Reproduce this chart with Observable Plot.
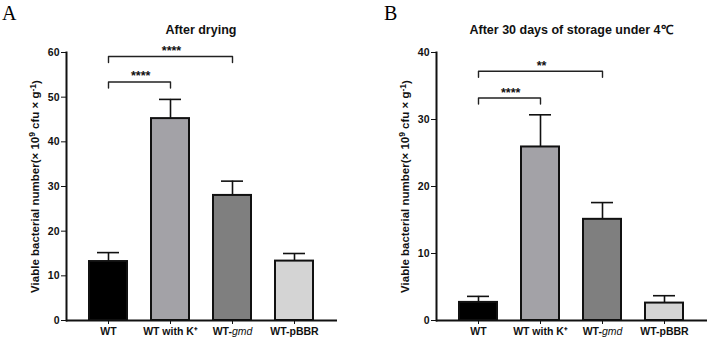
<!DOCTYPE html>
<html>
<head>
<meta charset="utf-8">
<script src="https://cdn.jsdelivr.net/npm/d3@7"></script>
<script src="https://cdn.jsdelivr.net/npm/@observablehq/plot@0.6"></script>
<style>
  html, body { margin: 0; padding: 0; background: #fff; }
  #wrap { position: relative; width: 708px; height: 341px; overflow: hidden; font-family: Arial, "Liberation Sans", sans-serif; }
  .panel { position: absolute; top: 0; width: 354px; height: 341px; }
  .letter { position: absolute; font-family: "Times New Roman", "Liberation Serif", serif; font-size: 20px; line-height: 1; }
  .title { position: absolute; font-weight: bold; font-size: 12.5px; line-height: 1; white-space: nowrap; transform: translateX(-50%); color: #111; }
</style>
</head>
<body>
<div id="wrap"></div>
<script>
// ---- data ----
const categories = ["WT", "WT with K⁺", "WT-gmd", "WT-pBBR"];
const barColors = ["#000000", "#a3a2a7", "#7f7f7f", "#d4d4d4"];

const meanA = [13.2, 45.2, 28.0, 13.3];
const sdA   = [2.0, 4.3, 3.2, 1.7];
const meanB = [2.7, 25.9, 15.1, 2.6];
const sdB   = [0.9, 4.8, 2.5, 1.1];

const ticksA = [0, 10, 20, 30, 40, 50, 60];
const ticksB = [0, 10, 20, 30, 40];

const bracketsA = [
  {from: "WT", to: "WT with K⁺", y: 53.4, label: "****"},
  {from: "WT", to: "WT-gmd", y: 59.1, label: "****"}
];
const bracketsB = [
  {from: "WT", to: "WT with K⁺", y: 33.2, label: "****"},
  {from: "WT", to: "WT-gmd", y: 37.2, label: "**"}
];

const titleA = "After drying";
const titleB = "After 30 days of storage under 4℃";
const yLabel = "Viable bacterial number(× 10⁹ cfu × g⁻¹)";

const SVGNS = "http://www.w3.org/2000/svg";

// ---- chart ----
function panel({means, sds, ticks, yMax, brackets, marginLeft, marginRight}) {
  const width = 354, height = 341, marginTop = 52, marginBottom = 21;
  const pad = 0.35;
  const rows = categories.map((c, i) => ({cat: c, v: means[i], sd: sds[i], top: means[i] + sds[i], fill: barColors[i]}));
  const step = (width - marginLeft - marginRight) / (categories.length - pad + 2 * pad);
  const pxPerUnit = (height - marginTop - marginBottom) / yMax;
  const drop = 6 / pxPerUnit;
  const lines = [];
  const starMarks = [];
  brackets.forEach((b, k) => {
    lines.push({k, x: b.from, y: b.y - drop}, {k, x: b.from, y: b.y}, {k, x: b.to, y: b.y}, {k, x: b.to, y: b.y - drop});
    const i = categories.indexOf(b.from), j = categories.indexOf(b.to);
    const mid = (i + j) / 2, base = Math.floor(mid);
    starMarks.push(Plot.text([b], {x: () => categories[base], y: "y", text: "label", dx: (mid - base) * step + 1, dy: -1.5, lineAnchor: "bottom",
      fontSize: 12.5, fontWeight: "bold", fill: "#111", style: "letter-spacing:2px"}));
  });
  const chart = Plot.plot({
    width, height, marginTop, marginBottom, marginLeft, marginRight,
    style: {fontFamily: "Arial, 'Liberation Sans', sans-serif", fontWeight: "bold", fontSize: "10.5px", color: "#111", overflow: "visible"},
    x: {domain: categories, padding: pad, label: null, tickSize: 4, tickPadding: 3},
    y: {domain: [0, yMax], ticks: ticks, label: null, tickSize: 5, tickPadding: 2},
    marks: [
      Plot.axisY({ticks: ticks, tickSize: 5, tickPadding: 2, label: yLabel, labelAnchor: "center", labelArrow: "none", labelOffset: 36}),
      Plot.axisX({tickSize: 4, tickPadding: 3, label: null}),
      Plot.ruleX(rows, {x: "cat", y1: "v", y2: "top", stroke: "#111", strokeWidth: 1.6}),
      Plot.tickY(rows, {x: "cat", y: "top", stroke: "#111", strokeWidth: 1.6, insetLeft: 9, insetRight: 9}),
      Plot.barY(rows, {x: "cat", y: "v", fill: "fill", stroke: "#111", strokeWidth: 2, insetLeft: 1, insetRight: 1}),
      Plot.frame({anchor: "left", stroke: "#111", strokeWidth: 2}),
      Plot.ruleY([0], {stroke: "#111", strokeWidth: 2}),
      Plot.line(lines, {x: "x", y: "y", z: "k", stroke: "#222", strokeWidth: 1.4, curve: "linear"}),
      ...starMarks
    ]
  });
  chart.querySelectorAll("text").forEach(t => {
    // italicise "gmd" in the tick label
    if (t.textContent === "WT-gmd") {
      t.textContent = "WT-";
      const ts = document.createElementNS(SVGNS, "tspan");
      ts.setAttribute("font-style", "italic");
      ts.setAttribute("font-weight", "normal");
      ts.textContent = "gmd";
      t.appendChild(ts);
    }
    // y axis label with real superscripts
    if (t.textContent === yLabel) {
      t.setAttribute("font-size", "11.5px");
      t.textContent = "";
      const parts = [["Viable bacterial number(× 10", 0], ["9", 1], [" cfu × g", 0], ["-1", 1], [")", 0]];
      let prevSup = false;
      parts.forEach(([s, sup]) => {
        const ts = document.createElementNS(SVGNS, "tspan");
        ts.textContent = s;
        if (sup) { ts.setAttribute("dy", "-0.45em"); ts.setAttribute("font-size", "8.5px"); }
        else if (prevSup) ts.setAttribute("dy", "0.4em");
        prevSup = !!sup;
        t.appendChild(ts);
      });
    }
  });
  return chart;
}

const wrap = document.getElementById("wrap");
function addPanel(left, chart, letter, letterX, title, titleX) {
  const d = document.createElement("div");
  d.className = "panel";
  d.style.left = left + "px";
  d.appendChild(chart);
  wrap.appendChild(d);
  const l = document.createElement("div");
  l.className = "letter";
  l.textContent = letter;
  l.style.left = letterX + "px";
  l.style.top = "3px";
  wrap.appendChild(l);
  const t = document.createElement("div");
  t.className = "title";
  t.textContent = title;
  t.style.left = titleX + "px";
  t.style.top = "24px";
  wrap.appendChild(t);
}

addPanel(0, panel({means: meanA, sds: sdA, ticks: ticksA, yMax: 60, brackets: bracketsA, marginLeft: 66, marginRight: 17}), "A", 2, titleA, 201);
addPanel(354, panel({means: meanB, sds: sdB, ticks: ticksB, yMax: 40, brackets: bracketsB, marginLeft: 82, marginRight: 1}), "B", 384, titleB, 571);
</script>
</body>
</html>
